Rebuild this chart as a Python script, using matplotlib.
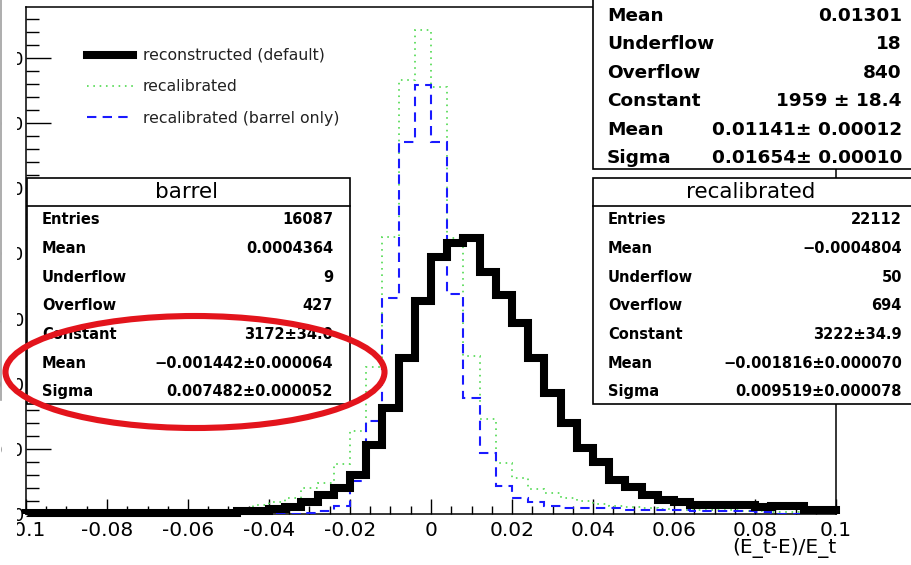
import numpy as np
import matplotlib.pyplot as plt
from matplotlib.patches import Rectangle, Ellipse
from matplotlib.lines import Line2D
from matplotlib.ticker import MultipleLocator, FuncFormatter

plt.rcParams['axes.unicode_minus'] = False

# histogram range / binning (50 bins from -0.1 to 0.1)
x_lo, x_hi, n_bins = -0.1, 0.1, 50

# counts per bin
reco_default = [4, 5, 5, 6, 5, 6, 6, 7, 7, 8, 8, 9, 10,
                23, 25, 38, 54, 92, 146, 200, 300, 531, 815, 1200, 1638,
                1976, 2084, 2115, 1861, 1684, 1469, 1200, 931, 700, 508,
                400, 262, 208, 146, 108, 92, 69, 69, 69, 69, 54, 62, 62,
                31, 31]
recalib = [2, 2, 3, 3, 3, 4, 4, 5, 6, 8, 10, 15, 23,
           38, 69, 92, 123, 200, 238, 385, 638, 1130, 2123, 3330, 3714,
           3276, 2115, 1215, 731, 392, 277, 192, 161, 123, 100, 77, 62,
           54, 46, 38, 31, 31, 31, 31, 23, 23, 15, 15, 15, 15]
recalib_barrel = [0, 0, 0, 0, 0, 0, 0, 0, 0, 0, 0, 0, 0, 0, 0, 0, 0,
                  8, 23, 62, 254, 715, 1661, 2853, 3291, 2853, 1692, 892,
                  469, 215, 123, 92, 62, 46, 46, 46, 46, 31, 31, 31, 31,
                  23, 23, 23, 23, 15, 0, 0, 0, 0]

legend_labels = ['reconstructed (default)', 'recalibrated',
                 'recalibrated (barrel only)']

# stats boxes
top_names = ['Mean', 'Underflow', 'Overflow', 'Constant', 'Mean', 'Sigma']
top_vals = ['0.01301', '18', '840', '1959 \u00b1 18.4',
            '0.01141\u00b1 0.00012', '0.01654\u00b1 0.00010']
box_names = ['Entries', 'Mean', 'Underflow', 'Overflow', 'Constant',
             'Mean', 'Sigma']
barrel_vals = ['16087', '0.0004364', '9', '427', '3172\u00b134.0',
               '\u22120.001442\u00b10.000064', '0.007482\u00b10.000052']
recal_vals = ['22112', '\u22120.0004804', '50', '694', '3222\u00b134.9',
              '\u22120.001816\u00b10.000070', '0.009519\u00b10.000078']

W, H = 912, 565
fig = plt.figure(figsize=(W / 100, H / 100), dpi=100)
ax = fig.add_axes([26 / W, 1 - 514 / H, 810 / W, 507 / H])

edges = np.linspace(x_lo, x_hi, n_bins + 1)
ax.stairs(recalib, edges, color='#5cdc5c', lw=1.3,
          linestyle=(0, (0.9, 2.6)), label=legend_labels[1], zorder=2)
ax.stairs(recalib_barrel, edges, color='#1a1aff', lw=1.5,
          linestyle=(0, (4.5, 3)), label=legend_labels[2], zorder=3)
ax.stairs(reco_default, edges, color='black', lw=5.8,
          label=legend_labels[0], zorder=4, clip_on=False)

ax.set_xlim(x_lo, x_hi)
ax.set_ylim(0, 3892)
ax.xaxis.set_major_locator(MultipleLocator(0.02))
ax.xaxis.set_minor_locator(MultipleLocator(0.005))
ax.xaxis.set_major_formatter(
    FuncFormatter(lambda v, p: '%g' % (round(v, 6) + 0.0)))
ax.yaxis.set_major_locator(MultipleLocator(500))
ax.yaxis.set_minor_locator(MultipleLocator(100))
ax.tick_params(axis='x', which='major', direction='in', length=10.8,
               width=1, labelsize=14.5, pad=5)
ax.tick_params(axis='x', which='minor', direction='in', length=5.8, width=1)
ax.tick_params(axis='y', which='major', direction='in', length=18,
               width=1, labelsize=13, pad=1.5)
ax.tick_params(axis='y', which='minor', direction='in', length=9.4, width=1)
for s in ax.spines.values():
    s.set_linewidth(1.1)

handles, labels = ax.get_legend_handles_labels()
order = [2, 0, 1]
leg = ax.legend([handles[i] for i in order], [labels[i] for i in order],
                loc='upper left', bbox_to_anchor=(87 / W, 1 - 48 / H),
                bbox_transform=fig.transFigure, frameon=False,
                fontsize=11.3, handlelength=2.9, handletextpad=0.65,
                labelspacing=1.05, borderpad=0, borderaxespad=0)
for t in leg.get_texts():
    t.set_color('#222222')

fig.text(837 / W, 1 - 548 / H, '(E_t-E)/E_t', ha='right', va='center',
         fontsize=14.5)

# overlay in pixel coordinates for boxes / annotation
ov = fig.add_axes([0, 0, 1, 1])
ov.set_xlim(0, W)
ov.set_ylim(H, 0)
ov.axis('off')

# cover left of the cut-off y / x labels and the grey border
ov.add_patch(Rectangle((2.5, 0), 14.5, 545, facecolor='white',
                       edgecolor='none', zorder=1))
ov.add_line(Line2D([1.5, 1.5], [0, 400], color='#a0a0a0', lw=1.2))

# top-right stats box (cut at the top)
ov.add_patch(Rectangle((593, -10), 340, 179, facecolor='white',
                       edgecolor='black', lw=1.2, zorder=2))
for i, (n, v) in enumerate(zip(top_names, top_vals)):
    y = 16 + 28.4 * i
    ov.text(607, y, n, fontsize=13.3, fontweight='bold', va='center',
            zorder=3)
    ov.text(902, y, v, fontsize=13.3, fontweight='bold', va='center',
            ha='right', zorder=3)


def stat_box(x0, x1, title, vals, right):
    ov.add_patch(Rectangle((x0, 178), x1 - x0, 226, facecolor='white',
                           edgecolor='black', lw=1.2, zorder=2))
    ov.add_line(Line2D([x0, x1], [206, 206], color='black', lw=1.2,
                       zorder=3))
    ov.text((x0 + min(x1, W)) / 2 - 2, 192, title, fontsize=15.5,
            ha='center', va='center', zorder=3)
    for i, (n, v) in enumerate(zip(box_names, vals)):
        y = 220 + 28.6 * i
        ov.text(x0 + 15, y, n, fontsize=10.5, fontweight='bold',
                va='center', zorder=3)
        ov.text(right, y, v, fontsize=10.5, fontweight='bold',
                va='center', ha='right', zorder=3)


stat_box(27, 350, 'barrel', barrel_vals, 333)
stat_box(593, 940, 'recalibrated', recal_vals, 902)

ov.add_patch(Ellipse((195, 372), 379, 112, facecolor='none',
                     edgecolor='#e3141c', lw=4.4, zorder=5))

fig.savefig('out.png', dpi=100)
